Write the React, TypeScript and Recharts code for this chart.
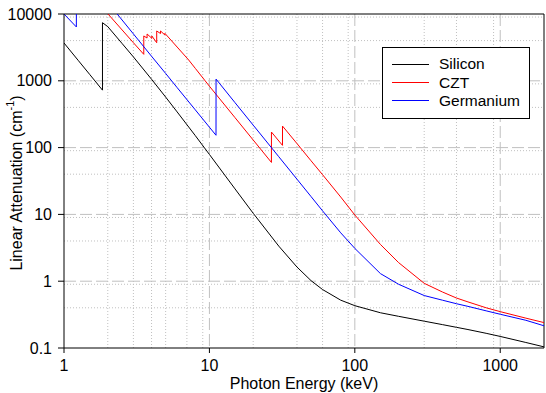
import React from "react";
import {
  LineChart,
  Line,
  XAxis,
  YAxis,
  CartesianGrid,
  ReferenceLine,
  Legend,
} from "recharts";

// photon energy (keV) / linear attenuation (1/cm)
const siliconEnergy = [1, 1.25, 1.5, 1.839, 1.8391, 2, 2.5, 3, 4, 5, 6, 8, 10, 15, 20, 30, 40, 50, 60, 80, 100, 150, 200, 300, 400, 500, 600, 800, 1000, 1500, 2000];
const siliconValue = [3680, 2030, 1250, 725, 7410, 6470, 3650, 2280, 1055, 571, 342, 151, 79, 24.1, 10.4, 3.35, 1.63, 1.02, 0.75, 0.52, 0.43, 0.337, 0.298, 0.252, 0.224, 0.204, 0.189, 0.166, 0.149, 0.121, 0.104];

const cztEnergy = [1.5, 2, 3, 3.537, 3.538, 3.726, 3.727, 4.017, 4.018, 4.34, 4.341, 4.611, 4.612, 4.938, 4.939, 6, 7.2, 8, 10, 15, 20, 26.7, 26.71, 31.81, 31.82, 40, 50, 60, 80, 100, 150, 200, 300, 400, 500, 600, 800, 1000, 1500, 2000];
const cztValue = [20600, 10100, 3720, 2490, 4690, 4370, 5020, 4330, 4690, 3720, 5570, 5100, 5570, 4850, 5140, 3200, 2050, 1534, 830, 281, 130, 60, 171, 108, 210, 115, 63.5, 39.3, 18.2, 9.8, 3.55, 1.9, 0.93, 0.69, 0.56, 0.49, 0.4, 0.35, 0.28, 0.24];

const germaniumEnergy = [1, 1.216, 1.217, 1.5, 2, 3, 4, 5, 6, 8, 10, 11.1, 11.11, 15, 20, 30, 40, 50, 60, 80, 100, 150, 200, 300, 400, 500, 600, 800, 1000, 1500, 2000];
const germaniumValue = [10000, 6400, 27000, 24000, 14900, 5040, 2330, 1290, 790, 367, 202, 153, 1060, 471, 217, 73, 33.7, 18.5, 11.3, 5.3, 3.1, 1.3, 0.9, 0.61, 0.52, 0.46, 0.42, 0.36, 0.32, 0.26, 0.215];

const xTicks = [1, 10, 100, 1000];
const yTicks = [0.1, 1, 10, 100, 1000, 10000];
const xMinor = [2, 3, 4, 5, 6, 7, 8, 9, 20, 30, 40, 50, 60, 70, 80, 90, 200, 300, 400, 500, 600, 700, 800, 900];
const yMinor = [0.2, 0.3, 0.4, 0.5, 0.6, 0.7, 0.8, 0.9, 2, 3, 4, 5, 6, 7, 8, 9, 20, 30, 40, 50, 60, 70, 80, 90, 200, 300, 400, 500, 600, 700, 800, 900, 2000, 3000, 4000, 5000, 6000, 7000, 8000, 9000];

const zip = (e: number[], v: number[]) => e.map((x, i) => ({ e: x, v: v[i] }));

const series = [
  { name: "Silicon", color: "#000000", data: zip(siliconEnergy, siliconValue) },
  { name: "CZT", color: "#ff0000", data: zip(cztEnergy, cztValue) },
  { name: "Germanium", color: "#0000ff", data: zip(germaniumEnergy, germaniumValue) },
];

const FONT = '"Liberation Sans", Arial, sans-serif';
const GRID = "#c0c0c0";

function YTitle({ viewBox }: any) {
  const cx = 16;
  const cy = viewBox.y + viewBox.height / 2 + 2;
  return (
    <text
      x={cx}
      y={cy}
      transform={`rotate(-90 ${cx} ${cy})`}
      textAnchor="middle"
      dominantBaseline="central"
      fontSize={16}
      fontFamily={FONT}
      fill="#000"
    >
      Linear Attenuation (cm
      <tspan dy={-6} fontSize={11}>-1</tspan>
      <tspan dy={6}>)</tspan>
    </text>
  );
}

function XTitle({ viewBox }: any) {
  return (
    <text
      x={viewBox.x + viewBox.width / 2}
      y={viewBox.y + 35}
      textAnchor="middle"
      dominantBaseline="central"
      fontSize={16}
      fontFamily={FONT}
      fill="#000"
    >
      Photon Energy (keV)
    </text>
  );
}

function LegendBox() {
  return (
    <div
      style={{
        boxSizing: "border-box",
        width: 148,
        height: 72,
        border: "1px solid #000",
        background: "#fff",
        paddingTop: 7,
        fontFamily: FONT,
        fontSize: 15.5,
        color: "#000",
      }}
    >
      {series.map((s) => (
        <div key={s.name} style={{ display: "flex", alignItems: "center", height: 18.4 }}>
          <span style={{ display: "inline-block", width: 37, marginLeft: 9, marginRight: 10, borderTop: `1px solid ${s.color}` }} />
          <span>{s.name}</span>
        </div>
      ))}
    </div>
  );
}

export default function App() {
  return (
    <div style={{ position: "absolute", left: 0, top: 0, width: 546, height: 393, background: "#fff" }}>
      <LineChart width={546} height={393} margin={{ top: 14, right: 2, bottom: 0, left: 0 }}>
        <CartesianGrid
          verticalValues={xMinor}
          horizontalValues={yMinor}
          stroke={GRID}
          strokeDasharray="1 2"
        />
        <CartesianGrid
          verticalValues={[10, 100, 1000]}
          horizontalValues={[1, 10, 100, 1000]}
          stroke={GRID}
          strokeDasharray="12 4"
        />
        <XAxis
          type="number"
          dataKey="e"
          scale="log"
          domain={[1, 2000]}
          ticks={xTicks}
          allowDataOverflow
          height={45}
          tickSize={5}
          tickMargin={7}
          stroke="#000"
          tick={{ fontSize: 16, fontFamily: FONT, fill: "#000" }}
          label={<XTitle />}
        />
        <YAxis
          type="number"
          scale="log"
          domain={[0.1, 10000]}
          ticks={yTicks}
          allowDataOverflow
          width={64}
          tickSize={6}
          tickMargin={6}
          stroke="#000"
          tickFormatter={(v: number) => String(v)}
          tick={{ fontSize: 16, fontFamily: FONT, fill: "#000" }}
          label={<YTitle />}
        />
        <ReferenceLine y={10000} stroke="#000" />
        <ReferenceLine x={2000} stroke="#000" />
        {series.map((s) => (
          <Line
            key={s.name}
            data={s.data}
            dataKey="v"
            name={s.name}
            type="linear"
            stroke={s.color}
            strokeWidth={1}
            dot={false}
            activeDot={false}
            isAnimationActive={false}
          />
        ))}
        <Legend
          layout="horizontal"
          verticalAlign="middle"
          align="center"
          content={<LegendBox />}
          wrapperStyle={{ left: 382, top: 47, width: 148, height: 72 }}
        />
      </LineChart>
    </div>
  );
}
